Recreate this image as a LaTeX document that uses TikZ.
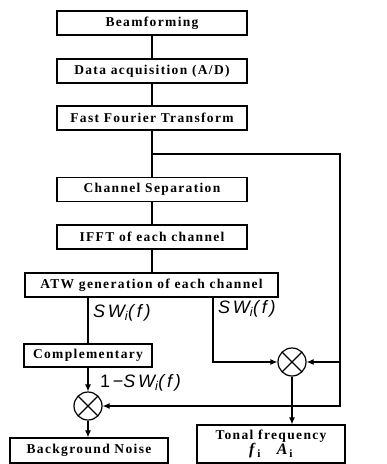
\documentclass[tikz,border=0pt]{standalone}
\usepackage{fontspec}
\usetikzlibrary{arrows.meta}
\newfontfamily\stagefont{Liberation Serif}[LetterSpace=10]
\newfontfamily\signalfont{Liberation Sans}[LetterSpace=15]
\begin{document}
\begin{tikzpicture}[
	x=1pt, y=-1pt,
	stage/.style={ draw, line width=1.2pt, inner sep=0pt, minimum height=24pt, font=\stagefont\bfseries\fontsize{13.5}{15}\selectfont },
	mixer/.style={ circle, draw, line width=1.2pt, minimum size=28pt, inner sep=0pt, path picture={\draw[line width=1.2pt] (path picture bounding box.north west) -- (path picture bounding box.south east) (path picture bounding box.south west) -- (path picture bounding box.north east);} },
	signal/.style={ anchor=west, inner sep=0pt, font=\signalfont\fontsize{18}{20}\selectfont },
	flow/.style={ line width=1.2pt },
	feed/.style={ line width=1.2pt, -{Latex[length=7pt,width=6pt]} }
]

\useasboundingbox (0,0) rectangle (387,464);

\node at (152,23) (bf) [stage,minimum width=190pt] {Beamforming};
\node at (152,71) (daq) [stage,minimum width=190pt] {Data acquisition (A/D)};
\node at (152,118) (fft) [stage,minimum width=190pt] {Fast Fourier Transform};
\node at (152,189.5) (chsep) [stage,minimum width=190pt] {Channel Separation};
\node at (152,237) (ifft) [stage,minimum width=190pt] {IFFT of each channel};
\node at (151.5,285) (atw) [stage,minimum width=253pt] {ATW generation of each channel};
\foreach \a/\b in {bf/daq,daq/fft,fft/chsep,chsep/ifft} \draw[flow] (\a) to (\b);
\draw[flow] (ifft) to (ifft |- atw.north);

\coordinate (tap) at (152,154);
\coordinate (ret) at (340,406);
\coordinate (atwr) at (213,297);

\node at (88,355.5) (comp) [stage,minimum width=128pt,minimum height=23pt] {Complementary};
\node at (88,406) (mixl) [mixer] {};
\node at (292,362) (mixr) [mixer] {};
\node at (89,450.5) (bgn) [stage,minimum width=158pt,minimum height=25pt] {Background Noise};
\node at (271,444) (tonal) [stage,minimum width=148pt,minimum height=38pt,align=center] {Tonal frequency\\ \fontsize{16}{16}\selectfont\textit{f}\textsubscript{i}\quad\textit{A}\textsubscript{i}};

\node at (93,313) (swl) [signal] {\textit{SW\textsubscript{i}(f)}};
\node at (218,309) (swr) [signal] {\textit{SW\textsubscript{i}(f)}};
\node at (100,383) (swc) [signal] {1−\textit{SW\textsubscript{i}(f)}};

\draw[feed] (tap) -| (ret) to (mixl);
\draw[feed] (ret |- mixr) to (mixr);
\draw[flow] (comp |- atw.south) to (comp);
\draw[feed] (atwr) |- (mixr);
\draw[feed] (comp) to (mixl);
\draw[feed] (mixl) to (mixl |- bgn.north);
\draw[feed] (mixr) to (mixr |- tonal.north);

\end{tikzpicture}
\end{document}
